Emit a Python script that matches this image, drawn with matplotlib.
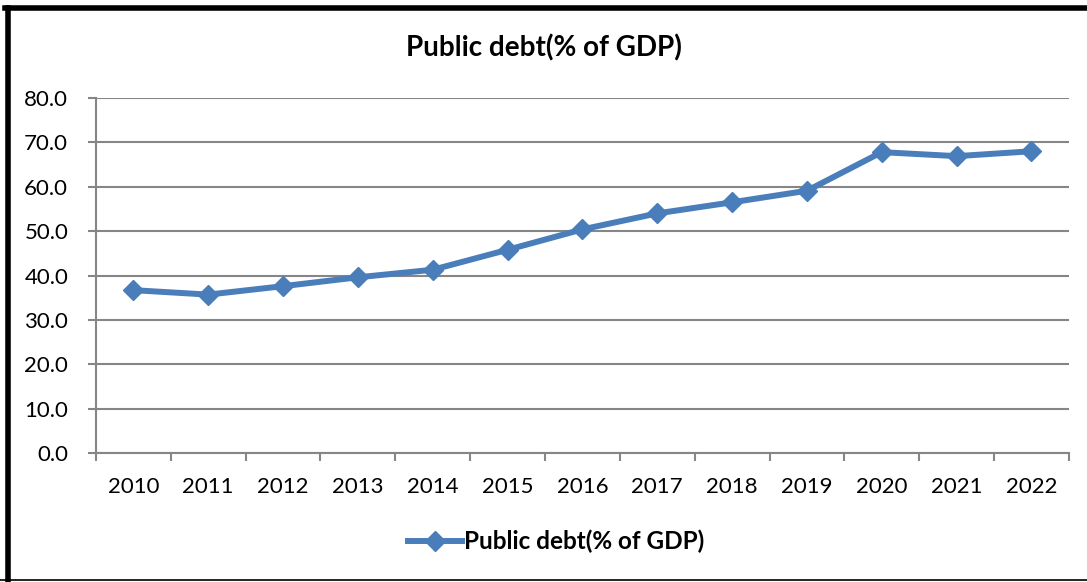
import numpy as np
import matplotlib
matplotlib.use('Agg')
import matplotlib.pyplot as plt
from matplotlib.lines import Line2D

# Data
years = ['2010', '2011', '2012', '2013', '2014', '2015', '2016',
         '2017', '2018', '2019', '2020', '2021', '2022']
debt = [36.7, 35.7, 37.6, 39.6, 41.3, 45.8, 50.4,
        54.0, 56.5, 59.1, 67.8, 66.9, 68.0]
y_ticks = [0, 10, 20, 30, 40, 50, 60, 70, 80]
series_name = 'Public debt(% of GDP)'

blue = '#4A7EBB'
grid_gray = '#868686'
plt.rcParams['font.family'] = ['Lato', 'DejaVu Sans']

fig = plt.figure(figsize=(10.87, 5.82), dpi=100)
ax = fig.add_axes([0.0883, 0.2216, 0.895, 0.61])

x = np.arange(len(years))
ax.plot(x, debt, color=blue, linewidth=4.3, marker='D', markersize=10.5,
        markeredgecolor=blue, markerfacecolor=blue, zorder=3)

ax.set_xlim(-0.5, len(years) - 0.5)
ax.set_ylim(0, 80)
ax.set_yticks(y_ticks)
ax.set_yticklabels([f'{v:.1f}' for v in y_ticks], fontsize=16)
ax.set_xticks(x)
ax.set_xticklabels(years, fontsize=16)
ax.set_xticks(np.arange(-0.5, len(years)), minor=True)
ax.tick_params(axis='x', which='major', length=0, pad=17)
ax.tick_params(axis='x', which='minor', length=6, color=grid_gray, width=1.5, direction='out')
ax.tick_params(axis='y', length=6, color=grid_gray, width=1.5, pad=14)

ax.grid(axis='y', color=grid_gray, linewidth=1.5)
ax.set_axisbelow(True)
for side in ['top', 'right']:
    ax.spines[side].set_visible(False)
for side in ['left', 'bottom']:
    ax.spines[side].set_color(grid_gray)
    ax.spines[side].set_linewidth(1.5)

fig.text(0.5, 0.918, series_name, ha='center', va='center',
         fontsize=20, fontweight='bold')

handle = Line2D([], [], color=blue, linewidth=4.3, marker='D', markersize=10.5)
fig.legend([handle], [series_name], loc='center', bbox_to_anchor=(0.512, 0.07),
           frameon=False, prop={'size': 17.5, 'weight': 'bold'},
           handlelength=2.2, handletextpad=0.1)

# frame around the chart like the screenshot
fig.add_artist(Line2D([0.007, 0.007], [0.0, 0.987], color='black', linewidth=4,
                      transform=fig.transFigure))
fig.add_artist(Line2D([0.005, 1.0], [0.987, 0.987], color='black', linewidth=4,
                      transform=fig.transFigure))
fig.add_artist(Line2D([0.0, 1.0], [0.003, 0.003], color='black', linewidth=1.2,
                      transform=fig.transFigure))

plt.savefig('out.png', dpi=100)
plt.close()
